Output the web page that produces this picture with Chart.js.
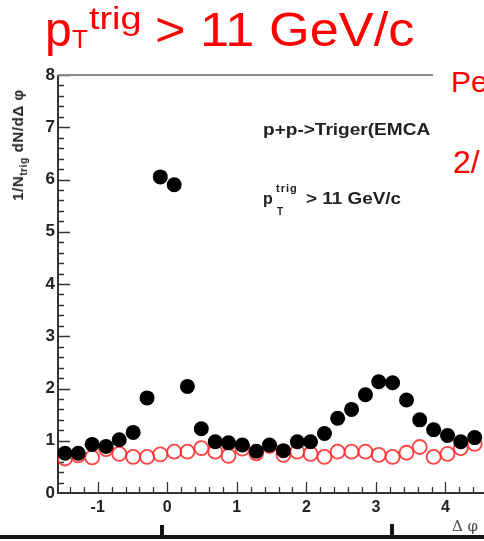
<!DOCTYPE html>
<html>
<head>
<meta charset="utf-8">
<script src="https://cdn.jsdelivr.net/npm/chart.js@4.4.0/dist/chart.umd.min.js"></script>
<style>
  html, body { margin: 0; padding: 0; background: #fff; }
  #wrap { position: relative; width: 484px; height: 541px; overflow: hidden; background: #fff; }
  #chart { position: absolute; left: 0; top: 0; }
  .txt { position: absolute; white-space: nowrap; line-height: 1; font-family: 'Liberation Sans', Arial, sans-serif; }
  .red { color: #ff0000; }
  .bold { font-weight: bold; color: #222; }
  #cover { position: absolute; left: 433px; top: 50px; width: 60px; height: 138px; background: #fff; }
  #ylab { position: absolute; left: 19px; top: 145px; transform: translate(-50%, -50%) rotate(-90deg);
          font: bold 15px 'Liberation Sans', Arial, sans-serif; color: #222; white-space: nowrap; letter-spacing: 0.6px; }
  #ylab sub { font-size: 10px; }
</style>
</head>
<body>
<div id="wrap">
  <canvas id="chart" width="520" height="541"></canvas>

  <!-- slide title -->
  <div class="txt red" style="left:45px; top:6px; font-size:48px;">p</div>
  <div class="txt red" style="left:72px; top:26px; font-size:26px;">T</div>
  <div class="txt red" style="left:89px; top:3px; font-size:31px; transform:scaleX(1.22); transform-origin:left;">trig</div>
  <div class="txt red" style="left:155px; top:6px; font-size:48px; transform:scaleX(1.09); transform-origin:left;">&gt; 11 GeV/c</div>

  <!-- annotations inside the frame -->
  <div class="txt bold" style="left:263px; top:122px; font-size:16px; transform:scaleX(1.19); transform-origin:left;">p+p-&gt;Triger(EMCA</div>
  <div class="txt bold" style="left:263px; top:191px; font-size:16px;">p</div>
  <div class="txt bold" style="left:276px; top:183px; font-size:11px; letter-spacing:1px;">trig</div>
  <div class="txt bold" style="left:277px; top:207px; font-size:10px;">T</div>
  <div class="txt bold" style="left:306px; top:191px; font-size:16px; transform:scaleX(1.18); transform-origin:left;">&gt; 11 GeV/c</div>

  <div id="ylab">1/N<sub>trig</sub> dN/dΔ φ</div>
  <div class="txt" style="left:452px; top:519px; font-size:15px; font-family:'DejaVu Serif', serif; color:#444;">Δ φ</div>

  <!-- white text box of the slide with the cut red text -->
  <div id="cover"></div>
  <div class="txt red" style="left:451px; top:67px; font-size:30px;">Pe</div>
  <div class="txt red" style="left:453px; top:146px; font-size:32px;">2/</div>
</div>

<script>
// delta phi bin centres (rad)
const dphi = [-1.47, -1.28, -1.08, -0.88, -0.69, -0.49, -0.29, -0.10, 0.10, 0.29,
              0.49, 0.69, 0.88, 1.08, 1.28, 1.47, 1.67, 1.87, 2.06, 2.26,
              2.45, 2.65, 2.85, 3.04, 3.24, 3.44, 3.63, 3.83, 4.03, 4.22, 4.42];
// p+p triggered correlation (filled black)
const trigged = [0.76, 0.76, 0.93, 0.89, 1.02, 1.16, 1.82, 6.05, 5.90, 2.04,
                 1.23, 0.98, 0.96, 0.92, 0.80, 0.92, 0.81, 0.98, 0.98, 1.14,
                 1.43, 1.60, 1.88, 2.13, 2.11, 1.78, 1.40, 1.21, 1.10, 0.98, 1.06];
// mixed / background (open red)
const mixed = [0.66, 0.72, 0.68, 0.84, 0.75, 0.69, 0.69, 0.74, 0.79, 0.79,
               0.86, 0.79, 0.71, 0.85, 0.76, 0.90, 0.73, 0.79, 0.75, 0.69,
               0.79, 0.79, 0.79, 0.73, 0.69, 0.77, 0.88, 0.69, 0.75, 0.86, 0.94];
const xTicks = [-1, 0, 1, 2, 3, 4];
const yTicks = [0, 1, 2, 3, 4, 5, 6, 7, 8];

const xFont = { family: "'Liberation Sans', Arial, sans-serif", size: 16, weight: 'bold' };
const yFont = { family: "'Liberation Sans', Arial, sans-serif", size: 17, weight: 'bold' };

// ticks pointing into the frame, axes lines and the scan line at the bottom
const frameTicks = {
    id: 'frameTicks',
    beforeDatasetsDraw(chart) {
        const ctx = chart.ctx;
        const a = chart.chartArea;
        const x = chart.scales.x;
        const y = chart.scales.y;
        ctx.save();
        ctx.strokeStyle = '#333';
        ctx.lineWidth = 1.3;
        ctx.beginPath();
        for (let i = 1; i <= 40; i++) {
            const py = Math.round(y.getPixelForValue(i / 5)) + 0.5;
            const len = i % 5 === 0 ? 12 : 6;
            ctx.moveTo(a.left, py);
            ctx.lineTo(a.left + len, py);
        }
        for (let i = -7; i <= 23; i++) {
            const px = Math.round(x.getPixelForValue(i / 5)) + 0.5;
            if (px < a.left || px > a.right) continue;
            const len = i % 5 === 0 ? 11 : 6;
            ctx.moveTo(px, a.bottom);
            ctx.lineTo(px, a.bottom - len);
        }
        ctx.stroke();

        ctx.lineWidth = 2;
        ctx.beginPath();
        ctx.moveTo(a.left, a.top);
        ctx.lineTo(a.left, a.bottom);
        ctx.lineTo(a.right, a.bottom);
        ctx.stroke();
        ctx.strokeStyle = '#8a8a8a';
        ctx.beginPath();
        ctx.moveTo(a.left, a.top);
        ctx.lineTo(a.right, a.top);
        ctx.stroke();

        ctx.fillStyle = '#151515';
        ctx.fillRect(0, 535, chart.width, 4);
        ctx.fillRect(160, 525, 4, 11);
        ctx.fillRect(390, 524, 4, 12);
        ctx.restore();
    }
};

new Chart(document.getElementById('chart'), {
    type: 'scatter',
    data: {
        datasets: [{
            label: 'p+p',
            data: dphi.map((v, i) => ({ x: v, y: trigged[i] })),
            backgroundColor: '#000',
            borderWidth: 0,
            pointRadius: 7.5
        }, {
            label: 'mixed',
            data: dphi.map((v, i) => ({ x: v, y: mixed[i] })),
            backgroundColor: 'rgba(0,0,0,0)',
            borderColor: 'rgba(255,45,45,0.9)',
            borderWidth: 1.8,
            pointRadius: 7
        }]
    },
    options: {
        responsive: false,
        animation: false,
        layout: { padding: { top: 75, right: 25, left: 0, bottom: 0 } },
        plugins: { legend: { display: false }, tooltip: { enabled: false } },
        scales: {
            x: {
                type: 'linear',
                min: -Math.PI / 2,
                max: 1.5 * Math.PI,
                afterBuildTicks: s => { s.ticks = xTicks.map(v => ({ value: v })); },
                afterFit: s => { s.height = 48; },
                grid: { drawOnChartArea: false, drawTicks: false },
                border: { display: false },
                ticks: { font: xFont, color: '#222', padding: 5, maxRotation: 0 }
            },
            y: {
                min: 0,
                max: 8,
                afterBuildTicks: s => { s.ticks = yTicks.map(v => ({ value: v })); },
                afterFit: s => { s.width = 58; },
                grid: { drawOnChartArea: false, drawTicks: false },
                border: { display: false },
                ticks: { font: yFont, color: '#222', padding: 3 }
            }
        }
    },
    plugins: [frameTicks]
});
</script>
</body>
</html>
